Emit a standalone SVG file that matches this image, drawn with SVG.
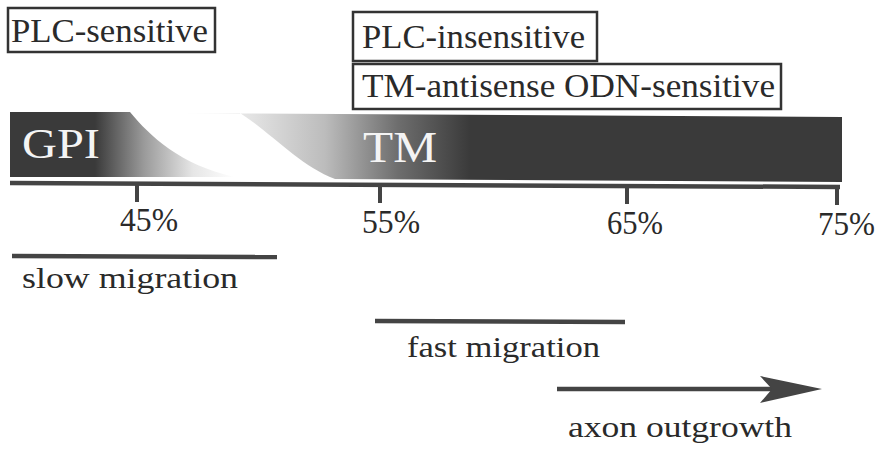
<svg xmlns="http://www.w3.org/2000/svg" width="882" height="460" viewBox="0 0 882 460">
<defs>
<linearGradient id="gGPI" gradientUnits="userSpaceOnUse" x1="95" y1="0" x2="235" y2="0">
<stop offset="0" stop-color="#3a3a3a"/>
<stop offset="0.35" stop-color="#9a9a9a"/>
<stop offset="0.7" stop-color="#e6e6e6"/>
<stop offset="1" stop-color="#ffffff"/>
</linearGradient>
<linearGradient id="gTM" gradientUnits="userSpaceOnUse" x1="180" y1="0" x2="470" y2="0">
<stop offset="0" stop-color="#ffffff"/>
<stop offset="0.25" stop-color="#e2e2e2"/>
<stop offset="0.5" stop-color="#bcbcbc"/>
<stop offset="0.75" stop-color="#6e6e6e"/>
<stop offset="1" stop-color="#3a3a3a"/>
</linearGradient>
</defs>
<style>
text{font-family:"Liberation Serif","DejaVu Serif","Times New Roman",serif}
.t{fill:#2a2a2a}
.w{fill:#f4f4f4}
.box{fill:#fff;stroke:#333;stroke-width:2.5}
.ln{stroke:#444;stroke-width:4.5;fill:none}
.tick{stroke:#444;stroke-width:4;fill:none}
</style>
<g id="plc-sensitive">
<rect class="box" x="8" y="8" width="207" height="44"/>
<text class="t" font-family="Liberation Serif, serif" x="11" y="42" font-size="33" textLength="197" lengthAdjust="spacingAndGlyphs">PLC-sensitive</text>
</g>
<g id="plc-insensitive">
<rect class="box" x="353" y="12" width="244" height="49"/>
<text class="t" font-family="Liberation Serif, serif" x="362" y="48" font-size="33" textLength="223" lengthAdjust="spacingAndGlyphs">PLC-insensitive</text>
</g>
<g id="tm-antisense">
<rect class="box" x="353" y="64" width="428" height="45"/>
<text class="t" font-family="Liberation Serif, serif" x="362" y="97" font-size="33" textLength="413" lengthAdjust="spacingAndGlyphs">TM-antisense ODN-sensitive</text>
</g>
<g id="bar">
<path d="M180,113 L842,117 L842,182 L335,179 C300,166 270,132 240,113 Z" fill="url(#gTM)"/>
<path d="M10,112 L130,112 C150,136 180,165 235,177 L10,177 Z" fill="url(#gGPI)"/>
<text class="w" font-family="Liberation Serif, serif" x="22" y="158" font-size="42" textLength="78" lengthAdjust="spacingAndGlyphs">GPI</text>
<text class="w" font-family="Liberation Serif, serif" x="363" y="162" font-size="45" textLength="74" lengthAdjust="spacingAndGlyphs">TM</text>
</g>
<g id="axis">
<line class="ln" x1="10" y1="183" x2="840" y2="187"/>
<line class="tick" x1="137" y1="184" x2="137" y2="202"/>
<line class="tick" x1="380" y1="185" x2="380" y2="203"/>
<line class="tick" x1="627" y1="186" x2="627" y2="204"/>
<line class="tick" x1="837" y1="187" x2="837" y2="205"/>
<text class="t" font-family="Liberation Serif, serif" x="120" y="231" font-size="33" textLength="58" lengthAdjust="spacingAndGlyphs">45%</text>
<text class="t" font-family="Liberation Serif, serif" x="362" y="233" font-size="33" textLength="58" lengthAdjust="spacingAndGlyphs">55%</text>
<text class="t" font-family="Liberation Serif, serif" x="607" y="234" font-size="33" textLength="56" lengthAdjust="spacingAndGlyphs">65%</text>
<text class="t" font-family="Liberation Serif, serif" x="818" y="235" font-size="33" textLength="57" lengthAdjust="spacingAndGlyphs">75%</text>
</g>
<g id="slow-migration">
<line class="ln" x1="12" y1="256" x2="277" y2="257"/>
<text class="t" font-family="Liberation Serif, serif" x="22" y="288" font-size="30" textLength="216" lengthAdjust="spacingAndGlyphs">slow migration</text>
</g>
<g id="fast-migration">
<line class="ln" x1="375" y1="321" x2="625" y2="322"/>
<text class="t" font-family="Liberation Serif, serif" x="407" y="357" font-size="30" textLength="193" lengthAdjust="spacingAndGlyphs">fast migration</text>
</g>
<g id="axon-outgrowth">
<line class="ln" x1="557" y1="389" x2="775" y2="389"/>
<path d="M760,376 L822,389 L760,403 L772,389 Z" fill="#444"/>
<text class="t" font-family="Liberation Serif, serif" x="568" y="437" font-size="30" textLength="224" lengthAdjust="spacingAndGlyphs">axon outgrowth</text>
</g>
</svg>
